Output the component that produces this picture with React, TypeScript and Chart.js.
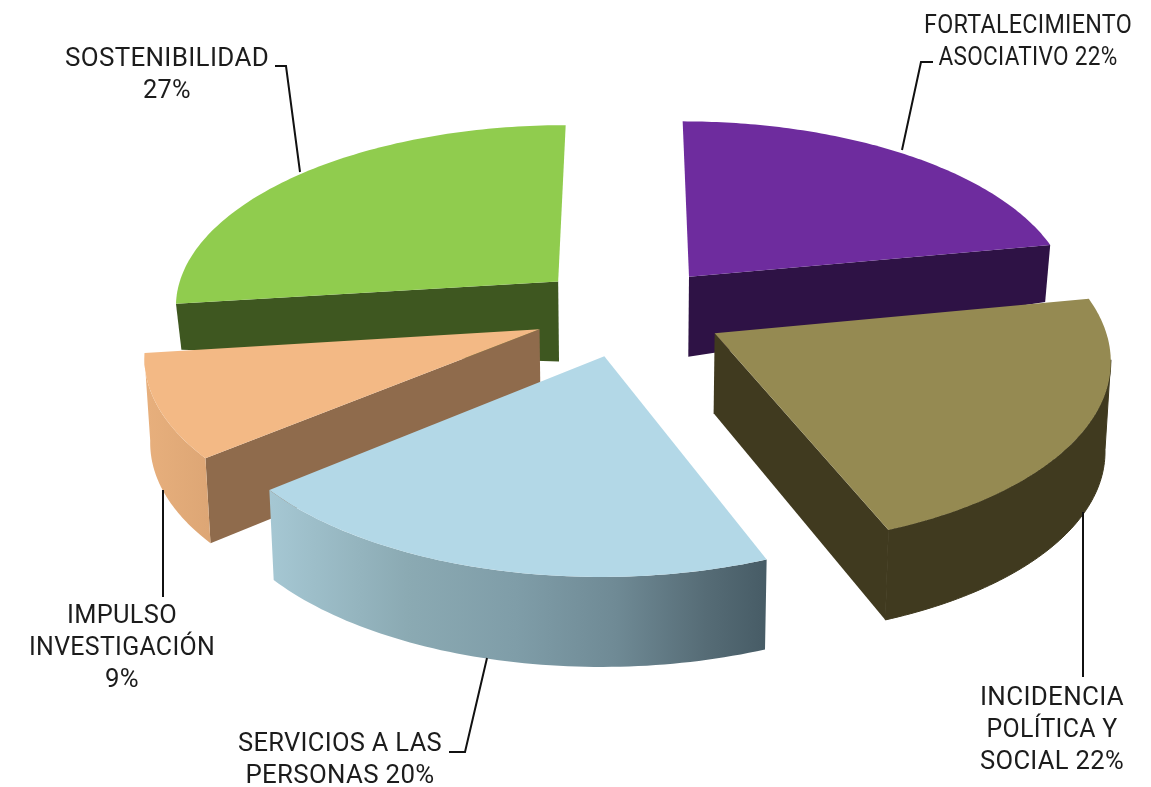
import React, { useEffect, useRef } from "react";
import { Chart, registerables } from "chart.js";

Chart.register(...registerables);

// ---- data ----
const categories = [
  "Fortalecimiento asociativo",
  "Incidencia política y social",
  "Servicios a las personas",
  "Impulso investigación",
  "Sostenibilidad",
];
const shares = [22, 22, 20, 9, 27];
const labelLines = [
  ["FORTALECIMIENTO", "ASOCIATIVO 22%"],
  ["INCIDENCIA", "POLÍTICA Y", "SOCIAL 22%"],
  ["SERVICIOS A LAS", "PERSONAS 20%"],
  ["IMPULSO", "INVESTIGACIÓN", "9%"],
  ["SOSTENIBILIDAD", "27%"],
];

// ---- styles ----
const topColors = ["#6e2c9e", "#958a52", "#b3d8e7", "#f3b985", "#90cc4e"];
const wallColors = ["#2e1245", "#403a1f", "#8aa8b3", "#8f6b4c", "#3e5720"];
const rimDepths = [57, 90, 90, 85, 46];
const APEX_DEPTH = 80;
const labelBoxes = [
  { x: 1028, y: 33 },
  { x: 1052, y: 705 },
  { x: 340, y: 751 },
  { x: 122, y: 623 },
  { x: 167, y: 66 },
];
const lineWidths = [
  [208, 179],
  [144, 131, 144],
  [204, 189],
  [110, 186, 34],
  [204, 48],
];
const leaders = [
  [[933, 62], [921, 62], [902, 150]],
  [[1083, 512], [1083, 677]],
  [[487, 658], [465, 752], [449, 752]],
  [[163, 490], [163, 597]],
  [[275, 66], [286, 66], [300, 172]],
];

// perspective camera used to lay the flat pie on the table
const CX = 629;
const CY = 311;
const SX = 386;
const SY = 182;
const PERSP = 0.121;
const BOTTOM_SHRINK = 0.988;
const SILHOUETTE = 0.14;

type P = { x: number; y: number };

const project = (u: number, v: number, depth: number): P => {
  const s = 1 / (1 - PERSP * v);
  const x = CX + SX * u * s;
  const y = CY + SY * v * s;
  if (!depth) return { x, y };
  return { x: CX + (x - CX) * BOTTOM_SHRINK, y: y + depth };
};

const trace = (ctx: CanvasRenderingContext2D, pts: P[]) => {
  ctx.beginPath();
  pts.forEach((p, i) => (i ? ctx.lineTo(p.x, p.y) : ctx.moveTo(p.x, p.y)));
  ctx.closePath();
};

const pie3d = {
  id: "pie3d",
  beforeDatasetDraw(chart: any) {
    const ctx: CanvasRenderingContext2D = chart.ctx;
    const arcs = chart.getDatasetMeta(0).data as any[];
    const slices = arcs.map((el, i) => {
      const { startAngle, endAngle, outerRadius } = el.getProps(
        ["startAngle", "endAngle", "outerRadius"],
        true
      );
      const mid = (startAngle + endAngle) / 2;
      const off = el.options.offset / 4 / outerRadius;
      return {
        i,
        a0: startAngle,
        a1: endAngle,
        ou: Math.cos(mid) * off,
        ov: Math.sin(mid) * off,
        mid,
        color: el.options.backgroundColor,
      };
    });
    slices.sort((a, b) => Math.sin(a.mid) - Math.sin(b.mid));

    for (const s of slices) {
      const rim = rimDepths[s.i];
      const at = (a: number, r: number, bottom: boolean) =>
        project(
          s.ou + Math.cos(a) * r,
          s.ov + Math.sin(a) * r,
          bottom ? APEX_DEPTH + (rim - APEX_DEPTH) * r : 0
        );
      const wall = (a: number) => {
        trace(ctx, [at(a, 0, false), at(a, 1, false), at(a, 1, true), at(a, 0, true)]);
        ctx.fillStyle = wallColors[s.i];
        ctx.fill();
      };
      if (-Math.cos(s.a0) > 1e-6) wall(s.a0);
      if (Math.cos(s.a1) > 1e-6) wall(s.a1);

      // outer rim: only the part that faces the viewer
      const from = Math.max(s.a0, SILHOUETTE);
      const to = Math.min(s.a1, Math.PI - SILHOUETTE);
      if (to > from) {
        const n = 64;
        const upper: P[] = [];
        const lower: P[] = [];
        for (let k = 0; k <= n; k++) {
          const a = from + ((to - from) * k) / n;
          upper.push(at(a, 1, false));
          lower.push(at(a, 1, true));
        }
        trace(ctx, [...upper, ...lower.reverse()]);
        if (s.i === 2) {
          const g = ctx.createLinearGradient(267, 0, 765, 0);
          g.addColorStop(0, "#a6c8d4");
          g.addColorStop(0.28, "#8baab3");
          g.addColorStop(0.5, "#7f9da8");
          g.addColorStop(0.7, "#6f8a95");
          g.addColorStop(0.88, "#566c76");
          g.addColorStop(1, "#475c66");
          ctx.fillStyle = g;
        } else if (s.i === 3) {
          const g = ctx.createLinearGradient(141, 0, 210, 0);
          g.addColorStop(0, "#e8b07d");
          g.addColorStop(1, "#dda675");
          ctx.fillStyle = g;
        } else {
          ctx.fillStyle = wallColors[s.i];
          ctx.strokeStyle = wallColors[s.i];
          ctx.lineWidth = 1;
          ctx.stroke();
        }
        ctx.fill();
      }

      // top face
      const n = 96;
      const top: P[] = [at(0, 0, false)];
      for (let k = 0; k <= n; k++) {
        top.push(at(s.a0 + ((s.a1 - s.a0) * k) / n, 1, false));
      }
      trace(ctx, top);
      ctx.fillStyle = s.color;
      ctx.fill();
    }
    return false;
  },
  afterDraw(chart: any) {
    const ctx: CanvasRenderingContext2D = chart.ctx;
    ctx.save();
    ctx.strokeStyle = "#111";
    ctx.lineWidth = 2;
    ctx.lineJoin = "miter";
    for (const line of leaders) {
      ctx.beginPath();
      line.forEach(([x, y], i) => (i ? ctx.lineTo(x, y) : ctx.moveTo(x, y)));
      ctx.stroke();
    }
    ctx.fillStyle = "#1c1c1c";
    ctx.font = "400 25px Roboto, sans-serif";
    (ctx as any).letterSpacing = "0.3px";
    ctx.textAlign = "center";
    ctx.textBaseline = "alphabetic";
    labelLines.forEach((lines, i) => {
      lines.forEach((t, j) => {
        // each line is fitted to the width it has in the printed figure
        const natural = ctx.measureText(t).width;
        ctx.save();
        ctx.translate(labelBoxes[i].x, labelBoxes[i].y + j * 32);
        ctx.scale(lineWidths[i][j] / natural, 1);
        ctx.fillText(t, 0, 0);
        ctx.restore();
      });
    });
    ctx.restore();
  },
};

export default function App() {
  const ref = useRef<HTMLCanvasElement>(null);
  useEffect(() => {
    document.body.style.margin = "0";
    const chart = new Chart(ref.current as HTMLCanvasElement, {
      type: "pie",
      data: {
        labels: categories,
        datasets: [
          {
            data: shares,
            backgroundColor: topColors,
            borderWidth: 0,
            offset: 262,
          },
        ],
      },
      options: {
        animation: false,
        responsive: false,
        devicePixelRatio: 1,
        rotation: 0,
        layout: { padding: 0 },
        plugins: { legend: { display: false }, tooltip: { enabled: false } },
      },
      plugins: [pie3d],
    } as any);
    return () => chart.destroy();
  }, []);
  return (
    <canvas
      ref={ref}
      width={1151}
      height={787}
      style={{ display: "block", width: 1151, height: 787, background: "#fff" }}
    />
  );
}
